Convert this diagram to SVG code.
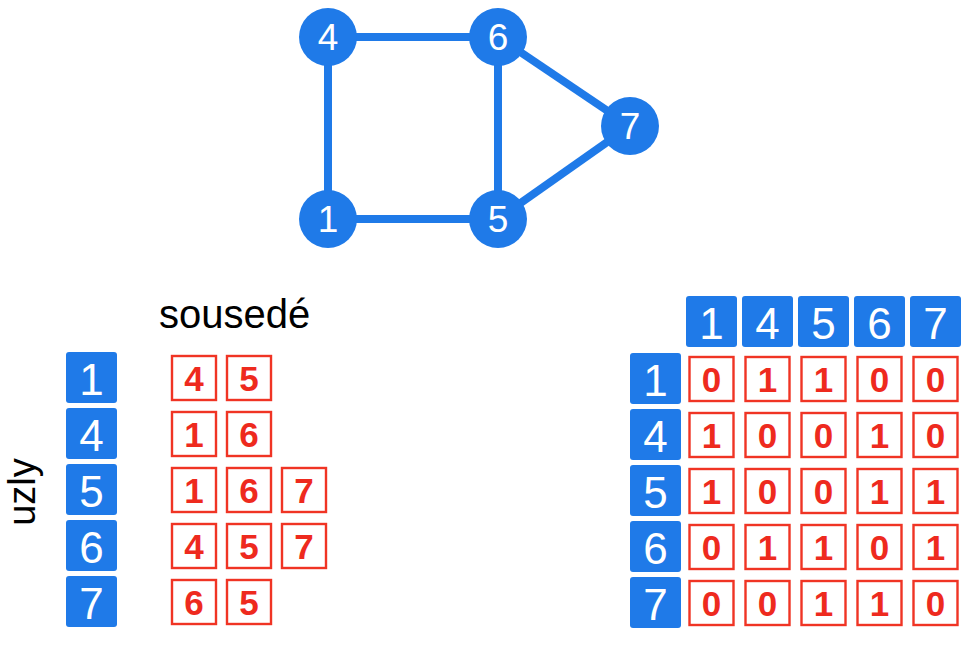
<svg xmlns="http://www.w3.org/2000/svg" width="971" height="645" viewBox="0 0 971 645">
<style>
.edge{stroke:#1f7ae8;stroke-width:8;fill:none}
.gn{fill:#1f7ae8}
.gt{fill:#fff;font-family:"Liberation Sans",Arial,sans-serif;font-size:37px;text-anchor:middle}
.bl{fill:#1f7ae8}
.bt{fill:#fff;font-family:"Liberation Sans",Arial,sans-serif;font-size:44px;text-anchor:middle}
.rb{fill:#fff;stroke:#f03424;stroke-width:2.4}
.rt{fill:#ee2a1e;font-family:"Liberation Sans",Arial,sans-serif;font-size:35px;font-weight:bold;text-anchor:middle}
.lbl{fill:#000;font-family:"Liberation Sans",Arial,sans-serif;font-size:40px}
</style>
<rect width="971" height="645" fill="#fff"/>
<g id="connectors">
<line class="edge" x1="328" y1="37" x2="498" y2="37"/>
<line class="edge" x1="328" y1="37" x2="328" y2="219"/>
<line class="edge" x1="328" y1="219" x2="498" y2="219"/>
<line class="edge" x1="498" y1="37" x2="498" y2="219"/>
<line class="edge" x1="498" y1="37" x2="630" y2="126"/>
<line class="edge" x1="498" y1="219" x2="630" y2="126"/>
</g>
<g id="node-4"><circle class="gn" cx="328" cy="37" r="29"/><text class="gt" x="328" y="50">4</text></g>
<g id="node-6"><circle class="gn" cx="498" cy="37" r="29"/><text class="gt" x="498" y="50">6</text></g>
<g id="node-7"><circle class="gn" cx="630" cy="126" r="29"/><text class="gt" x="630" y="139">7</text></g>
<g id="node-1"><circle class="gn" cx="328" cy="219" r="29"/><text class="gt" x="328" y="232">1</text></g>
<g id="node-5"><circle class="gn" cx="498" cy="219" r="29"/><text class="gt" x="498" y="232">5</text></g>

<g id="labels">
<text class="lbl" x="159" y="328">sousedé</text>
<text class="lbl" style="font-size:38px" transform="translate(35,492) rotate(-90)" text-anchor="middle">uzly</text>
</g>

<g id="adjacency-list">
<g id="list-1">
<rect class="bl" x="66" y="352" width="51" height="51" rx="3"/><text class="bt" x="91.5" y="395">1</text>
<rect class="rb" x="172" y="356" width="44" height="44"/><text class="rt" x="194" y="391">4</text>
<rect class="rb" x="227" y="356" width="44" height="44"/><text class="rt" x="249" y="391">5</text>
</g>
<g id="list-4">
<rect class="bl" x="66" y="408" width="51" height="51" rx="3"/><text class="bt" x="91.5" y="451">4</text>
<rect class="rb" x="172" y="412" width="44" height="44"/><text class="rt" x="194" y="447">1</text>
<rect class="rb" x="227" y="412" width="44" height="44"/><text class="rt" x="249" y="447">6</text>
</g>
<g id="list-5">
<rect class="bl" x="66" y="464" width="51" height="51" rx="3"/><text class="bt" x="91.5" y="507">5</text>
<rect class="rb" x="172" y="468" width="44" height="44"/><text class="rt" x="194" y="503">1</text>
<rect class="rb" x="227" y="468" width="44" height="44"/><text class="rt" x="249" y="503">6</text>
<rect class="rb" x="282" y="468" width="44" height="44"/><text class="rt" x="304" y="503">7</text>
</g>
<g id="list-6">
<rect class="bl" x="66" y="520" width="51" height="51" rx="3"/><text class="bt" x="91.5" y="563">6</text>
<rect class="rb" x="172" y="524" width="44" height="44"/><text class="rt" x="194" y="559">4</text>
<rect class="rb" x="227" y="524" width="44" height="44"/><text class="rt" x="249" y="559">5</text>
<rect class="rb" x="282" y="524" width="44" height="44"/><text class="rt" x="304" y="559">7</text>
</g>
<g id="list-7">
<rect class="bl" x="66" y="576" width="51" height="51" rx="3"/><text class="bt" x="91.5" y="619">7</text>
<rect class="rb" x="172" y="580" width="44" height="44"/><text class="rt" x="194" y="615">6</text>
<rect class="rb" x="227" y="580" width="44" height="44"/><text class="rt" x="249" y="615">5</text>
</g>
</g>

<g id="matrix-header">
<rect class="bl" x="686" y="296" width="51" height="51" rx="3"/><text class="bt" x="711.5" y="339">1</text>
<rect class="bl" x="742" y="296" width="51" height="51" rx="3"/><text class="bt" x="767.5" y="339">4</text>
<rect class="bl" x="798" y="296" width="51" height="51" rx="3"/><text class="bt" x="823.5" y="339">5</text>
<rect class="bl" x="854" y="296" width="51" height="51" rx="3"/><text class="bt" x="879.5" y="339">6</text>
<rect class="bl" x="910" y="296" width="51" height="51" rx="3"/><text class="bt" x="935.5" y="339">7</text>
</g>

<g id="matrix-row-1">
<rect class="bl" x="630" y="353" width="51" height="51" rx="3"/><text class="bt" x="655.5" y="396">1</text>
<rect class="rb" x="689.5" y="357" width="44" height="44"/><text class="rt" x="711.5" y="392">0</text>
<rect class="rb" x="745.5" y="357" width="44" height="44"/><text class="rt" x="767.5" y="392">1</text>
<rect class="rb" x="801.5" y="357" width="44" height="44"/><text class="rt" x="823.5" y="392">1</text>
<rect class="rb" x="857.5" y="357" width="44" height="44"/><text class="rt" x="879.5" y="392">0</text>
<rect class="rb" x="913.5" y="357" width="44" height="44"/><text class="rt" x="935.5" y="392">0</text>
</g>
<g id="matrix-row-4">
<rect class="bl" x="630" y="409" width="51" height="51" rx="3"/><text class="bt" x="655.5" y="452">4</text>
<rect class="rb" x="689.5" y="413" width="44" height="44"/><text class="rt" x="711.5" y="448">1</text>
<rect class="rb" x="745.5" y="413" width="44" height="44"/><text class="rt" x="767.5" y="448">0</text>
<rect class="rb" x="801.5" y="413" width="44" height="44"/><text class="rt" x="823.5" y="448">0</text>
<rect class="rb" x="857.5" y="413" width="44" height="44"/><text class="rt" x="879.5" y="448">1</text>
<rect class="rb" x="913.5" y="413" width="44" height="44"/><text class="rt" x="935.5" y="448">0</text>
</g>
<g id="matrix-row-5">
<rect class="bl" x="630" y="465" width="51" height="51" rx="3"/><text class="bt" x="655.5" y="508">5</text>
<rect class="rb" x="689.5" y="469" width="44" height="44"/><text class="rt" x="711.5" y="504">1</text>
<rect class="rb" x="745.5" y="469" width="44" height="44"/><text class="rt" x="767.5" y="504">0</text>
<rect class="rb" x="801.5" y="469" width="44" height="44"/><text class="rt" x="823.5" y="504">0</text>
<rect class="rb" x="857.5" y="469" width="44" height="44"/><text class="rt" x="879.5" y="504">1</text>
<rect class="rb" x="913.5" y="469" width="44" height="44"/><text class="rt" x="935.5" y="504">1</text>
</g>
<g id="matrix-row-6">
<rect class="bl" x="630" y="521" width="51" height="51" rx="3"/><text class="bt" x="655.5" y="564">6</text>
<rect class="rb" x="689.5" y="525" width="44" height="44"/><text class="rt" x="711.5" y="560">0</text>
<rect class="rb" x="745.5" y="525" width="44" height="44"/><text class="rt" x="767.5" y="560">1</text>
<rect class="rb" x="801.5" y="525" width="44" height="44"/><text class="rt" x="823.5" y="560">1</text>
<rect class="rb" x="857.5" y="525" width="44" height="44"/><text class="rt" x="879.5" y="560">0</text>
<rect class="rb" x="913.5" y="525" width="44" height="44"/><text class="rt" x="935.5" y="560">1</text>
</g>
<g id="matrix-row-7">
<rect class="bl" x="630" y="577" width="51" height="51" rx="3"/><text class="bt" x="655.5" y="620">7</text>
<rect class="rb" x="689.5" y="581" width="44" height="44"/><text class="rt" x="711.5" y="616">0</text>
<rect class="rb" x="745.5" y="581" width="44" height="44"/><text class="rt" x="767.5" y="616">0</text>
<rect class="rb" x="801.5" y="581" width="44" height="44"/><text class="rt" x="823.5" y="616">1</text>
<rect class="rb" x="857.5" y="581" width="44" height="44"/><text class="rt" x="879.5" y="616">1</text>
<rect class="rb" x="913.5" y="581" width="44" height="44"/><text class="rt" x="935.5" y="616">0</text>
</g>
</svg>
